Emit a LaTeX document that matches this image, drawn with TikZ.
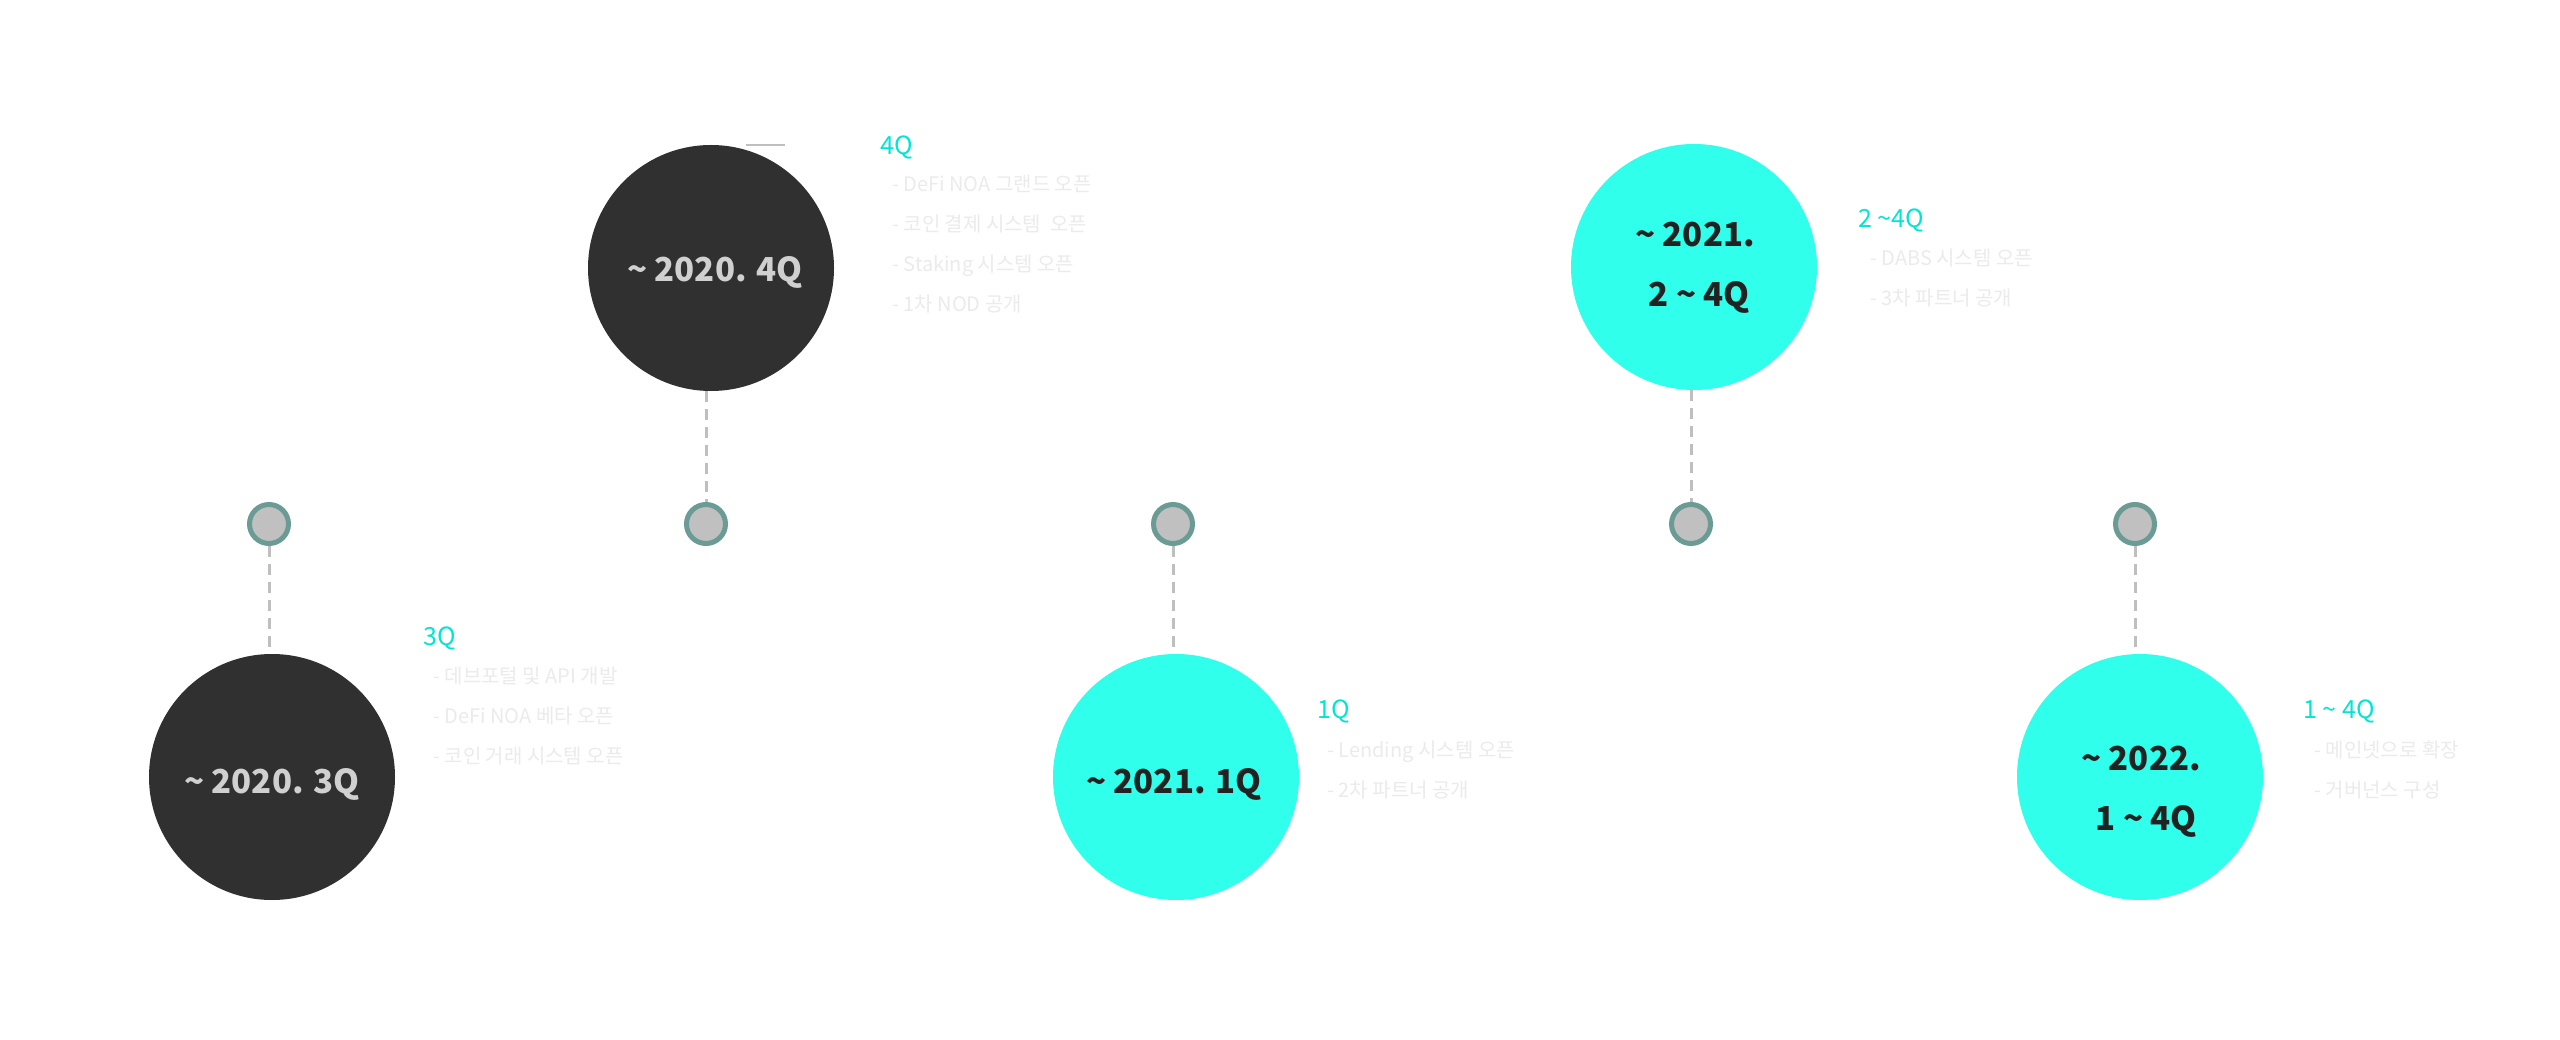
\documentclass[tikz,border=0pt]{standalone}
\usepackage{fontspec}
\setmainfont{Noto Sans CJK KR}
\usetikzlibrary{calc}
\definecolor{darkfill}{HTML}{303030}
\definecolor{darktxt}{HTML}{D0D0D0}
\definecolor{cyanfill}{HTML}{30FFEC}
\definecolor{cyantxt}{HTML}{222222}
\definecolor{qcyan}{HTML}{00E5D4}
\definecolor{itemgray}{HTML}{EBEBEB}
\definecolor{dotfill}{HTML}{C0C0C0}
\definecolor{dotline}{HTML}{6A9B94}
\definecolor{dashgray}{HTML}{BFBFBF}
\begin{document}
\begin{tikzpicture}[x=1pt,y=-1pt,
  bigdark/.style={circle, fill=darkfill, minimum size=246pt, inner sep=0pt},
  bigcyan/.style={circle, fill=cyanfill, minimum size=246pt, inner sep=0pt},
  dot/.style={circle, draw=dotline, fill=dotfill, line width=5pt, minimum size=39pt, inner sep=0pt},
  connector/.style={draw=dashgray, line width=3pt, dash pattern=on 11pt off 7pt},
  datedark/.style={text=darktxt, font=\fontsize{33}{40}\selectfont\bfseries, inner sep=0pt, anchor=base},
  datecyan/.style={text=cyantxt, font=\fontsize{33}{40}\selectfont\bfseries, inner sep=0pt, anchor=base},
  qlabel/.style={text=qcyan, font=\fontsize{25}{30}\selectfont, inner sep=0pt, anchor=base west},
  item/.style={text=itemgray, font=\fontsize{20}{24}\selectfont, inner sep=0pt, anchor=base west}
]
\useasboundingbox[fill=white] (0,0) rectangle (2560,1040);

% small timeline dots
\node[dot] (s1) at (269,524) {};
\node[dot] (s2) at (706,524) {};
\node[dot] (s3) at (1173,524) {};
\node[dot] (s4) at (1691,524) {};
\node[dot] (s5) at (2135,524) {};

% big circles
\node[bigdark] (b1) at (272,777) {};
\node[bigdark] (b2) at (711,268) {};
\node[bigcyan] (b3) at (1176,777) {};
\node[bigcyan] (b4) at (1694,267) {};
\node[bigcyan] (b5) at (2140,777) {};

% connectors
\draw[connector] (s1.south) -- (s1.south |- b1.north);
\draw[connector] (s2.north |- b2.south) -- (s2.north);
\draw[connector] (s3.south) -- (s3.south |- b3.north);
\draw[connector] (s4.north |- b4.south) -- (s4.north);
\draw[connector] (s5.south) -- (s5.south |- b5.north);

% small stray line near top of b2
\coordinate (ln1) at (746,145);
\coordinate (ln2) at (785,145);
\draw[gray!50, line width=1.2pt] (ln1) -- (ln2);

% dates inside circles
\node[datedark] (t1) at (272,793) {\~{} 2020. 3Q};
\node[datedark] (t2) at (715,282) {\~{} 2020. 4Q};
\node[datecyan] (t3) at (1174,793) {\~{} 2021. 1Q};
\node[datecyan] (t4a) at (1695,247) {\~{} 2021.};
\node[datecyan] (t4b) at (1699,307) {2 \~{} 4Q};
\node[datecyan] (t5a) at (2141,770) {\~{} 2022.};
\node[datecyan] (t5b) at (2146,830) {1 \~{} 4Q};

% 3Q text
\node[qlabel] (q1) at (423,645) {3Q};
\node[item] (q1a) at (433,683) {- 데브포털 및 API 개발};
\node[item] (q1b) at (433,723) {- DeFi NOA 베타 오픈};
\node[item] (q1c) at (433,763) {- 코인 거래 시스템 오픈};

% 4Q text
\node[qlabel] (q2) at (880,155) {4Q};
\node[item] (q2a) at (892,192) {- DeFi NOA 그랜드 오픈};
\node[item] (q2b) at (892,232) {- 코인 결제 시스템\ \ 오픈};
\node[item] (q2c) at (892,272) {- Staking 시스템 오픈};
\node[item] (q2d) at (892,312) {- 1차 NOD 공개};

% 1Q text
\node[qlabel] (q3) at (1317,718) {1Q};
\node[item] (q3a) at (1327,757) {- Lending 시스템 오픈};
\node[item] (q3b) at (1327,797) {- 2차 파트너 공개};

% 2~4Q text
\node[qlabel] (q4) at (1858,228) {2 \~{}4Q};
\node[item] (q4a) at (1870,266) {- DABS 시스템 오픈};
\node[item] (q4b) at (1870,306) {- 3차 파트너 공개};

% 1~4Q text
\node[qlabel] (q5) at (2303,718) {1 \~{} 4Q};
\node[item] (q5a) at (2314,757) {- 메인넷으로 확장};
\node[item] (q5b) at (2314,797) {- 거버넌스 구성};
\end{tikzpicture}
\end{document}
